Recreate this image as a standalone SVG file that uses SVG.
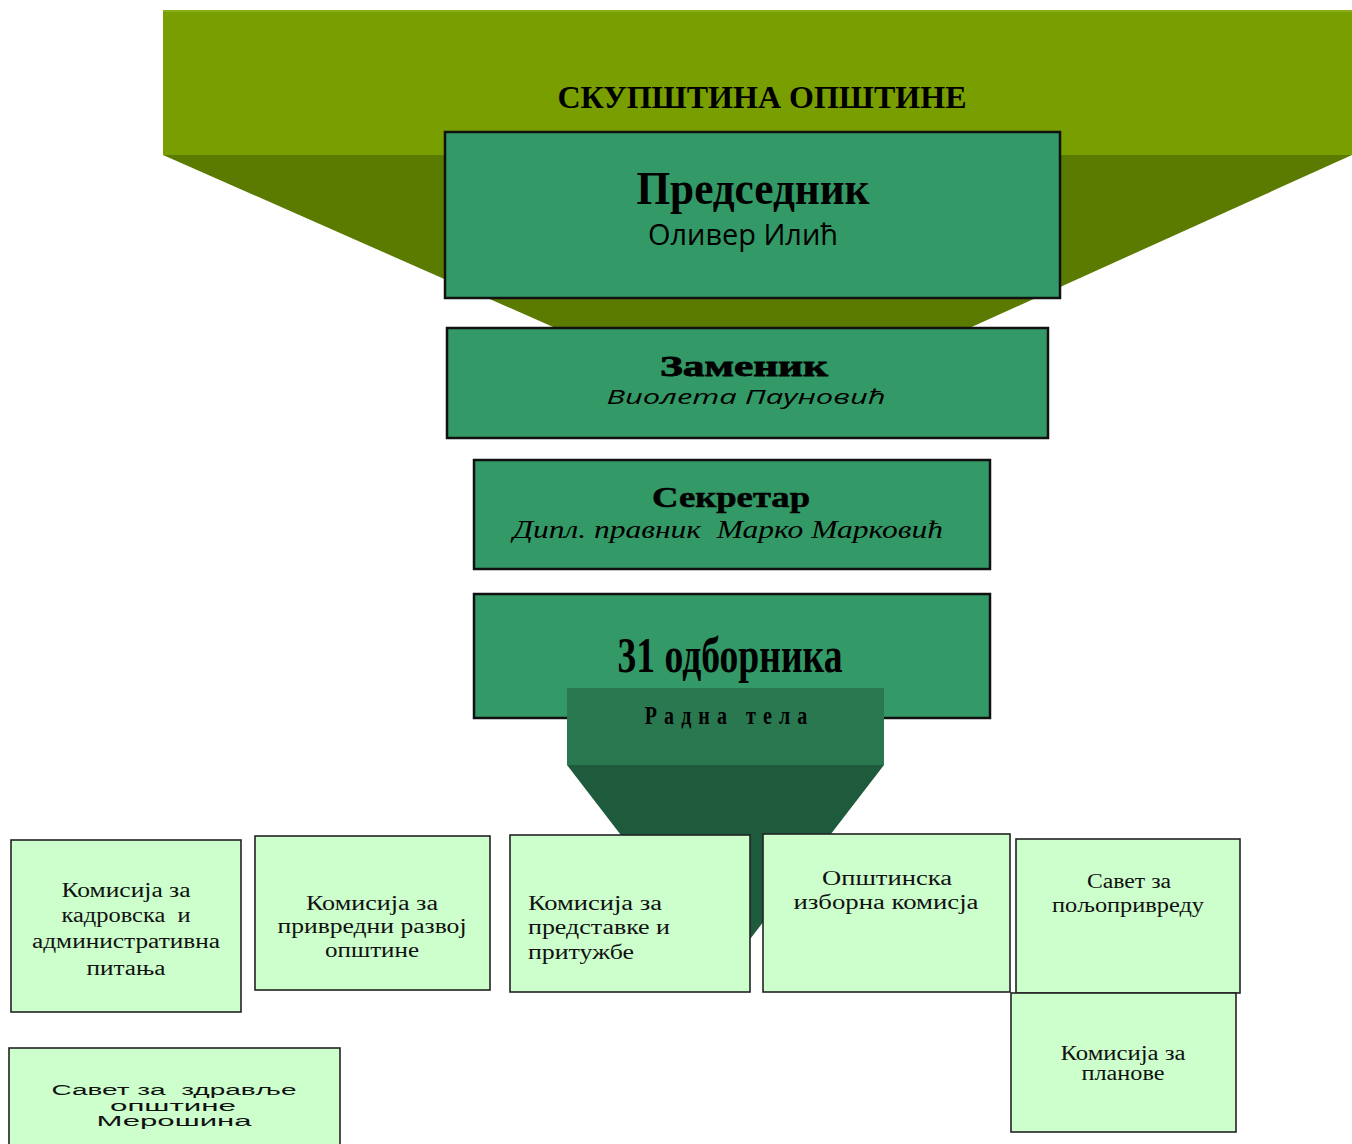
<svg xmlns="http://www.w3.org/2000/svg" width="1352" height="1144" viewBox="0 0 1352 1144">
<style>
text{white-space:pre}
.ser{font-family:"Liberation Serif","Times New Roman",serif;fill:#000}
.sans{font-family:"Open Sans","Liberation Sans",sans-serif;fill:#000}
.gbox{fill:#339966;stroke:#111;stroke-width:2.5}
.lbox{fill:#ccffcc;stroke:#222;stroke-width:1.6}
.bt{font-family:"Liberation Serif","Times New Roman",serif;font-size:20px;fill:#111}
.st{font-family:"Liberation Sans",Arial,sans-serif;font-size:14px;fill:#111}
</style>
<rect width="1352" height="1144" fill="#ffffff"/>
<g id="skupstina">
  <rect x="163" y="10" width="1189" height="145" fill="#789e00"/>
  <rect x="163" y="10" width="1189" height="2" fill="#8aae1a"/>
  <polygon points="163,155 1352,155 965,330 560,330" fill="#5a7a00"/>
  <text class="ser" x="762" y="108" font-size="32" font-weight="bold" text-anchor="middle" textLength="409" lengthAdjust="spacingAndGlyphs">СКУПШТИНА ОПШТИНЕ</text>
</g>
<g id="predsednik">
  <rect class="gbox" x="445" y="132" width="615" height="166"/>
  <text class="ser" x="753" y="204" font-size="46" font-weight="bold" text-anchor="middle" textLength="233" lengthAdjust="spacingAndGlyphs">Председник</text>
  <text class="sans" x="743" y="245" font-size="30" text-anchor="middle" textLength="190" lengthAdjust="spacingAndGlyphs">Оливер Илић</text>
</g>
<g id="zamenik">
  <rect class="gbox" x="447" y="328" width="601" height="110"/>
  <text class="ser" x="744" y="376" font-size="30" font-weight="bold" text-anchor="middle" stroke="#000" stroke-width="0.8" textLength="168" lengthAdjust="spacingAndGlyphs">Заменик</text>
  <text class="sans" x="746" y="404" font-size="20" font-style="italic" text-anchor="middle" textLength="279" lengthAdjust="spacingAndGlyphs">Виолета Пауновић</text>
</g>
<g id="sekretar">
  <rect class="gbox" x="474" y="460" width="516" height="109"/>
  <text class="ser" x="731" y="507" font-size="29" font-weight="bold" text-anchor="middle" stroke="#000" stroke-width="0.5" textLength="158" lengthAdjust="spacingAndGlyphs">Секретар</text>
  <text class="ser" x="728" y="538" font-size="25" font-style="italic" text-anchor="middle" textLength="430" lengthAdjust="spacingAndGlyphs">Дипл. правник  Марко Марковић</text>
</g>
<g id="odbornici">
  <rect class="gbox" x="474" y="594" width="516" height="124"/>
  <text class="ser" x="730" y="672" font-size="50" font-weight="bold" text-anchor="middle" textLength="225" lengthAdjust="spacingAndGlyphs">31 одборника</text>
</g>
<g id="radna-tela">
  <polygon points="567,765 884,765 725.5,971" fill="#1e5a3c"/>
  <rect x="567" y="688" width="317" height="77" fill="#2a7850"/>
  <text class="ser" x="726" y="724" font-size="25" font-weight="bold" text-anchor="middle" transform="translate(726 0) scale(0.8 1) translate(-726 0)" textLength="203" lengthAdjust="spacing">Радна тела</text>
</g>
<g id="kadrovska">
  <rect class="lbox" x="11" y="840" width="230" height="172"/>
  <text class="bt" x="126" y="897" text-anchor="middle" textLength="129" lengthAdjust="spacingAndGlyphs">Комисија за</text>
  <text class="bt" x="126" y="922" text-anchor="middle" textLength="129" lengthAdjust="spacingAndGlyphs">кадровска  и</text>
  <text class="bt" x="126" y="948" text-anchor="middle" textLength="188" lengthAdjust="spacingAndGlyphs">административна</text>
  <text class="bt" x="126" y="975" text-anchor="middle" textLength="79" lengthAdjust="spacingAndGlyphs">питања</text>
</g>
<g id="privredni">
  <rect class="lbox" x="255" y="836" width="235" height="154"/>
  <text class="bt" x="372" y="910" text-anchor="middle" textLength="132" lengthAdjust="spacingAndGlyphs">Комисија за</text>
  <text class="bt" x="372" y="933" text-anchor="middle" textLength="189" lengthAdjust="spacingAndGlyphs">привредни развој</text>
  <text class="bt" x="372" y="957" text-anchor="middle" textLength="94" lengthAdjust="spacingAndGlyphs">општине</text>
</g>
<g id="predstavke">
  <rect class="lbox" x="510" y="835" width="240" height="157"/>
  <text class="bt" x="528" y="910" textLength="134" lengthAdjust="spacingAndGlyphs">Комисија за</text>
  <text class="bt" x="528" y="934" textLength="142" lengthAdjust="spacingAndGlyphs">представке и</text>
  <text class="bt" x="528" y="959" textLength="106" lengthAdjust="spacingAndGlyphs">притужбе</text>
</g>
<g id="izborna">
  <rect class="lbox" x="763" y="834" width="247" height="158"/>
  <text class="bt" x="887" y="885" text-anchor="middle" textLength="130" lengthAdjust="spacingAndGlyphs">Општинска</text>
  <text class="bt" x="886" y="909" text-anchor="middle" textLength="185" lengthAdjust="spacingAndGlyphs">изборна комисја</text>
</g>
<g id="poljoprivreda">
  <rect class="lbox" x="1016" y="839" width="224" height="154"/>
  <text class="bt" x="1129" y="888" text-anchor="middle" textLength="84" lengthAdjust="spacingAndGlyphs">Савет за</text>
  <text class="bt" x="1128" y="912" text-anchor="middle" textLength="152" lengthAdjust="spacingAndGlyphs">пољопривреду</text>
</g>
<g id="planovi">
  <rect class="lbox" x="1011" y="993" width="225" height="139"/>
  <text class="bt" x="1123" y="1060" font-size="18" text-anchor="middle" textLength="125" lengthAdjust="spacingAndGlyphs">Комисија за</text>
  <text class="bt" x="1123" y="1080" font-size="18" text-anchor="middle" textLength="83" lengthAdjust="spacingAndGlyphs">планове</text>
</g>
<g id="zdravlje">
  <rect class="lbox" x="9" y="1048" width="331" height="110"/>
  <text class="st" x="174" y="1095" text-anchor="middle" textLength="245" lengthAdjust="spacingAndGlyphs">Савет за  здравље</text>
  <text class="st" x="173" y="1111" text-anchor="middle" textLength="126" lengthAdjust="spacingAndGlyphs">општине</text>
  <text class="st" x="174" y="1126" text-anchor="middle" textLength="155" lengthAdjust="spacingAndGlyphs">Мерошина</text>
</g>
</svg>
